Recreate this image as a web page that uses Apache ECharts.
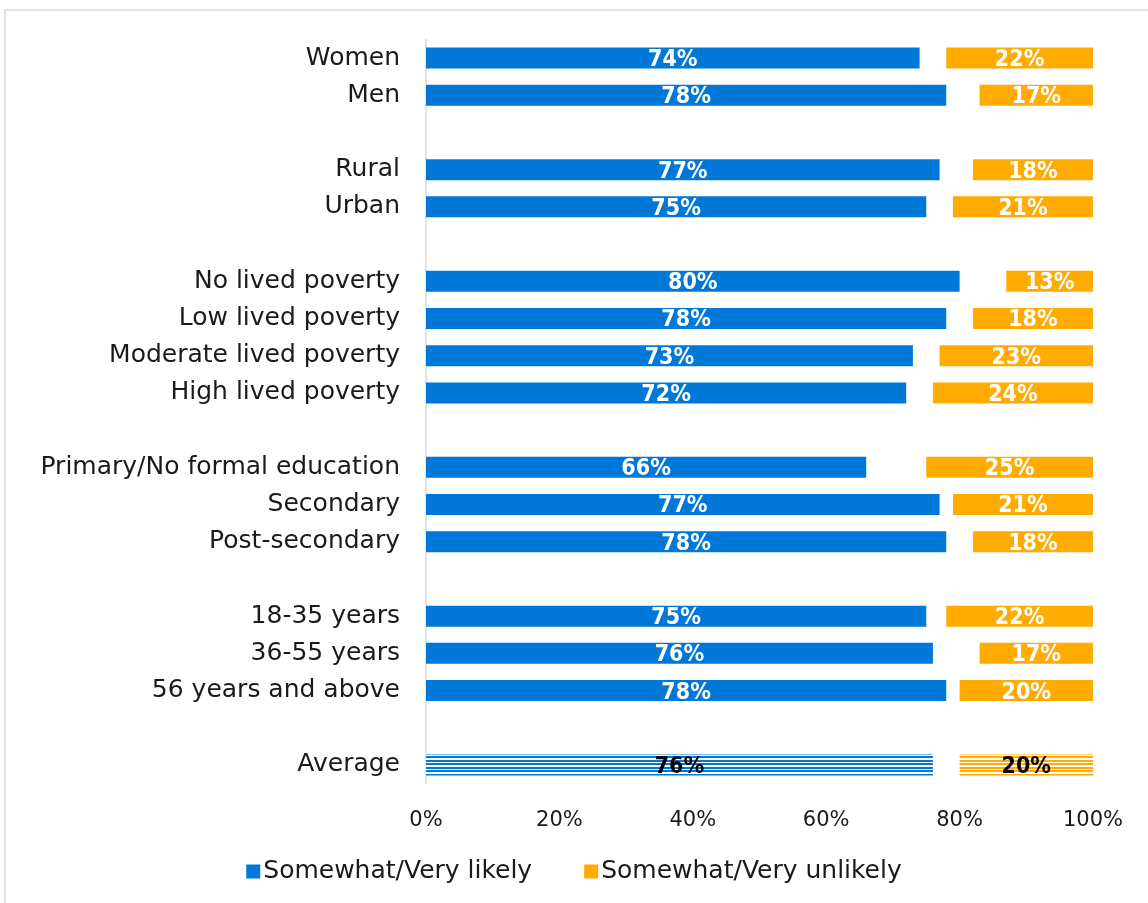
<!DOCTYPE html>
<html>
<head>
<meta charset="utf-8">
<script src="https://cdn.jsdelivr.net/npm/echarts@6/dist/echarts.min.js"></script>
<style>
  html, body { margin: 0; padding: 0; background: #fff; }
  #chart { width: 1148px; height: 903px; }
</style>
</head>
<body>
<div id="chart"></div>
<script>
// Groups (empty strings leave a blank row between groups)
const categories = [
  'Women', 'Men', '',
  'Rural', 'Urban', '',
  'No lived poverty', 'Low lived poverty', 'Moderate lived poverty', 'High lived poverty', '',
  'Primary/No formal education', 'Secondary', 'Post-secondary', '',
  '18-35 years', '36-55 years', '56 years and above', '',
  'Average'
];
// Share answering somewhat/very likely (%)
const likely = [74, 78, null, 77, 75, null, 80, 78, 73, 72, null, 66, 77, 78, null, 75, 76, 78, null, 76];
// Share answering somewhat/very unlikely (%)
const unlikely = [22, 17, null, 18, 21, null, 13, 18, 23, 24, null, 25, 21, 18, null, 22, 17, 20, null, 20];
const xTicks = [0, 20, 40, 60, 80, 100];

const BLUE = '#0078d7';
const ORANGE = '#ffab00';
const AVG = 'Average';

// Horizontal stripe fill used for the average row (two lines per 7px)
function stripes(color) {
  const c = document.createElement('canvas');
  c.width = 4; c.height = 7;
  const g = c.getContext('2d');
  g.fillStyle = '#ffffff';
  g.fillRect(0, 0, 4, 7);
  g.fillStyle = color;
  g.fillRect(0, 0, 4, 2);
  g.fillRect(0, 4, 4, 2);
  return { image: c, repeat: 'repeat' };
}

const labelFont = {
  show: true, position: 'inside', color: '#ffffff', offset: [0, 2],
  fontFamily: 'DejaVu Sans Condensed, DejaVu Sans, sans-serif',
  fontWeight: 'bold', fontSize: 23,
  formatter: p => p.value + '%'
};

function build(values, color) {
  return values.map((v, i) => {
    if (v === null) return '-';
    if (categories[i] === AVG) {
      return {
        value: v,
        itemStyle: { color: stripes(color) },
        label: { color: '#000000' }
      };
    }
    return v;
  });
}

// Unanswered remainder between the two bars
const remainder = likely.map((v, i) => v === null ? '-' : 100 - v - unlikely[i]);

const chart = echarts.init(document.getElementById('chart'));
chart.setOption({
  animation: false,
  backgroundColor: '#ffffff',
  graphic: [{
    type: 'rect', silent: true, z: -1,
    shape: { x: 5, y: 10, width: 1200, height: 1000 },
    style: { fill: 'none', stroke: '#d9d9d9', lineWidth: 1.5 }
  }],
  grid: { left: 426, right: 55, top: 39.4, bottom: 119.4, containLabel: false },
  legend: {
    data: ['Somewhat/Very likely', 'Somewhat/Very unlikely'],
    bottom: 14, left: 'center',
    icon: 'rect', itemWidth: 14, itemHeight: 14, itemGap: 52,
    textStyle: { fontFamily: 'DejaVu Sans, sans-serif', fontSize: 25, color: '#1a1a1a', padding: [0, 0, 0, -2] }
  },
  xAxis: {
    type: 'value', min: 0, max: 100, interval: 20,
    axisLine: { show: false }, axisTick: { show: false }, splitLine: { show: false },
    axisLabel: {
      margin: 26, fontFamily: 'DejaVu Sans, sans-serif', fontSize: 21, color: '#1a1a1a',
      formatter: v => xTicks.includes(v) ? v + '%' : ''
    }
  },
  yAxis: {
    type: 'category', data: categories, inverse: true,
    axisLine: { show: true, lineStyle: { color: '#d9d9d9', width: 1.5 } },
    axisTick: { show: false },
    axisLabel: {
      margin: 26, fontFamily: 'DejaVu Sans, sans-serif', fontSize: 25, color: '#1a1a1a'
    }
  },
  series: [
    {
      name: 'Somewhat/Very likely', type: 'bar', stack: 'all', barWidth: 21,
      itemStyle: { color: BLUE }, label: labelFont,
      data: build(likely, BLUE)
    },
    {
      name: 'gap', type: 'bar', stack: 'all', barWidth: 21, silent: true,
      itemStyle: { color: 'rgba(0,0,0,0)' }, label: { show: false },
      data: remainder
    },
    {
      name: 'Somewhat/Very unlikely', type: 'bar', stack: 'all', barWidth: 21,
      itemStyle: { color: ORANGE }, label: labelFont,
      data: build(unlikely, ORANGE)
    }
  ]
});
</script>
</body>
</html>
